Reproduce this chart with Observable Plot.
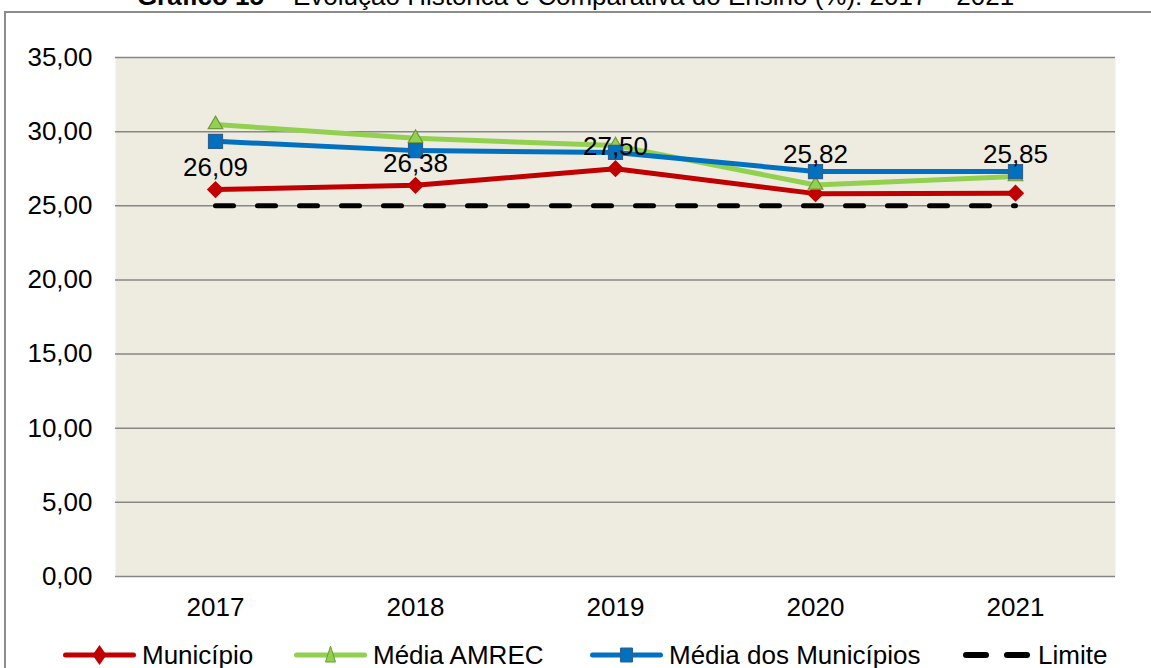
<!DOCTYPE html>
<html>
<head>
<meta charset="utf-8">
<script src="https://cdn.jsdelivr.net/npm/d3@7"></script>
<script src="https://cdn.jsdelivr.net/npm/@observablehq/plot@0.6"></script>
<style>
  body { margin:0; background:#fff; font-family:"Liberation Sans", Arial, sans-serif; }
  #page { position:relative; width:1151px; height:668px; overflow:hidden; background:#fff; }
  #frame { position:absolute; left:4px; top:11px; width:1200px; height:720px; border:2px solid #8c8c8c; box-sizing:border-box; }
  #title { position:absolute; left:0; top:-19px; width:1151px; text-align:center; font-size:26px; line-height:30px; color:#000; white-space:nowrap; }
  #chart { position:absolute; left:0; top:0; }
  .leg { position:absolute; top:643px; height:24px; display:flex; align-items:center; font-size:26px; color:#000; white-space:nowrap; }
  .leg svg { display:block; }
</style>
</head>
<body>
<div id="page">
  <div id="frame"></div>
  <div id="title"><b>Gráfico 15</b> – Evolução Histórica e Comparativa do Ensino (%): 2017 – 2021</div>
  <div id="chart"></div>
  <div id="legend"></div>
</div>
<script>
const years = ["2017", "2018", "2019", "2020", "2021"];
const municipio = [26.09, 26.38, 27.50, 25.82, 25.85];
const mediaAmrec = [30.48, 29.55, 29.06, 26.40, 26.97];
const mediaMunicipios = [29.35, 28.72, 28.60, 27.31, 27.31];
const limite = [25, 25, 25, 25, 25];
const yTicks = [0, 5, 10, 15, 20, 25, 30, 35];
const seriesNames = ["Município", "Média AMREC", "Média dos Municípios", "Limite"];

const colors = { red: "#C00000", green: "#92D050", blue: "#0070C0", black: "#000000" };
const fmt = d => d.toFixed(2).replace(".", ",");

const toRows = vals => years.map((y, i) => ({ year: y, value: vals[i] }));
const rMun = toRows(municipio);
const rAmrec = toRows(mediaAmrec);
const rMed = toRows(mediaMunicipios);
const rLim = toRows(limite);

const chart = Plot.plot({
  width: 1151,
  height: 630,
  marginLeft: 115,
  marginRight: 36,
  marginTop: 57,
  marginBottom: 54,
  style: { fontFamily: "Liberation Sans, Arial, sans-serif", fontSize: "26px", background: "transparent", color: "#000" },
  x: { type: "point", domain: years, padding: 0.5, label: null },
  y: { domain: [0, 35], label: null },
  marks: [
    Plot.frame({ fill: "#EEECE1", stroke: null }),
    Plot.gridY(yTicks, { stroke: "#868686", strokeOpacity: 1, strokeWidth: 1.5 }),
    Plot.axisY({ ticks: yTicks, tickSize: 0, tickPadding: 23, tickFormat: fmt, label: null, fontSize: 26 }),
    Plot.axisX({ tickSize: 0, tickPadding: 21, label: null, fontSize: 26 }),
    Plot.lineY(rMun, { x: "year", y: "value", stroke: colors.red, strokeWidth: 5 }),
    Plot.dot(rMun, { x: "year", y: "value", symbol: "diamond2", r: 7.8, fill: colors.red, stroke: null }),
    Plot.lineY(rAmrec, { x: "year", y: "value", stroke: colors.green, strokeWidth: 5 }),
    Plot.dot(rAmrec, { x: "year", y: "value", symbol: "triangle", r: 5.4, fill: colors.green, stroke: "#6E9A3A", strokeWidth: 1.2 }),
    Plot.lineY(rMed, { x: "year", y: "value", stroke: colors.blue, strokeWidth: 5 }),
    Plot.dot(rMed, { x: "year", y: "value", symbol: "square", r: 7.9, fill: colors.blue, stroke: "#2F5F8F", strokeWidth: 1.2 }),
    Plot.lineY(rLim, { x: "year", y: "value", stroke: colors.black, strokeWidth: 5, strokeDasharray: "18,24", strokeLinecap: "round" }),
    Plot.text(rMun.slice(0, 3), { x: "year", y: "value", text: d => fmt(d.value), dy: -22, fontSize: 26, fill: "#000" }),
    Plot.text(rMun.slice(3), { x: "year", y: "value", text: d => fmt(d.value), dy: -39, fontSize: 26, fill: "#000" })
  ]
});
document.getElementById("chart").appendChild(chart);

// Legend
const legendItems = [
  { name: seriesNames[0], color: colors.red, symbol: "diamond", left: 63 },
  { name: seriesNames[1], color: colors.green, symbol: "triangle", left: 294 },
  { name: seriesNames[2], color: colors.blue, symbol: "square", left: 590 },
  { name: seriesNames[3], color: colors.black, symbol: "dash", left: 962 }
];
const legend = document.getElementById("legend");
const ns = "http://www.w3.org/2000/svg";
for (const it of legendItems) {
  const div = document.createElement("div");
  div.className = "leg";
  div.style.left = it.left + "px";
  const svg = document.createElementNS(ns, "svg");
  const w = it.symbol === "dash" ? 70 : 73;
  svg.setAttribute("width", w);
  svg.setAttribute("height", 24);
  if (it.symbol === "dash") {
    for (const [a, b] of [[4, 24], [45, 65]]) {
      const l = document.createElementNS(ns, "line");
      l.setAttribute("x1", a); l.setAttribute("x2", b);
      l.setAttribute("y1", 12); l.setAttribute("y2", 12);
      l.setAttribute("stroke", it.color); l.setAttribute("stroke-width", 6);
      l.setAttribute("stroke-linecap", "round");
      svg.appendChild(l);
    }
  } else {
    const l = document.createElementNS(ns, "line");
    l.setAttribute("x1", 2.5); l.setAttribute("x2", w - 2.5);
    l.setAttribute("y1", 12); l.setAttribute("y2", 12);
    l.setAttribute("stroke", it.color); l.setAttribute("stroke-width", 5);
    l.setAttribute("stroke-linecap", "round");
    svg.appendChild(l);
    const c = w / 2;
    const p = document.createElementNS(ns, "path");
    if (it.symbol === "diamond") {
      p.setAttribute("d", `M${c},2 L${c + 7},12 L${c},22 L${c - 7},12 Z`);
      p.setAttribute("fill", it.color);
    } else if (it.symbol === "triangle") {
      p.setAttribute("d", `M${c},3 L${c + 5},19 L${c - 5},19 Z`);
      p.setAttribute("fill", it.color);
      p.setAttribute("stroke", "#6E9A3A");
    } else {
      p.setAttribute("d", `M${c - 6},5 h12 v14 h-12 Z`);
      p.setAttribute("fill", it.color);
      p.setAttribute("stroke", "#2F5F8F");
    }
    svg.appendChild(p);
  }
  div.appendChild(svg);
  const span = document.createElement("span");
  span.textContent = it.name;
  span.style.marginLeft = "6px";
  div.appendChild(span);
  legend.appendChild(div);
}
</script>
</body>
</html>
